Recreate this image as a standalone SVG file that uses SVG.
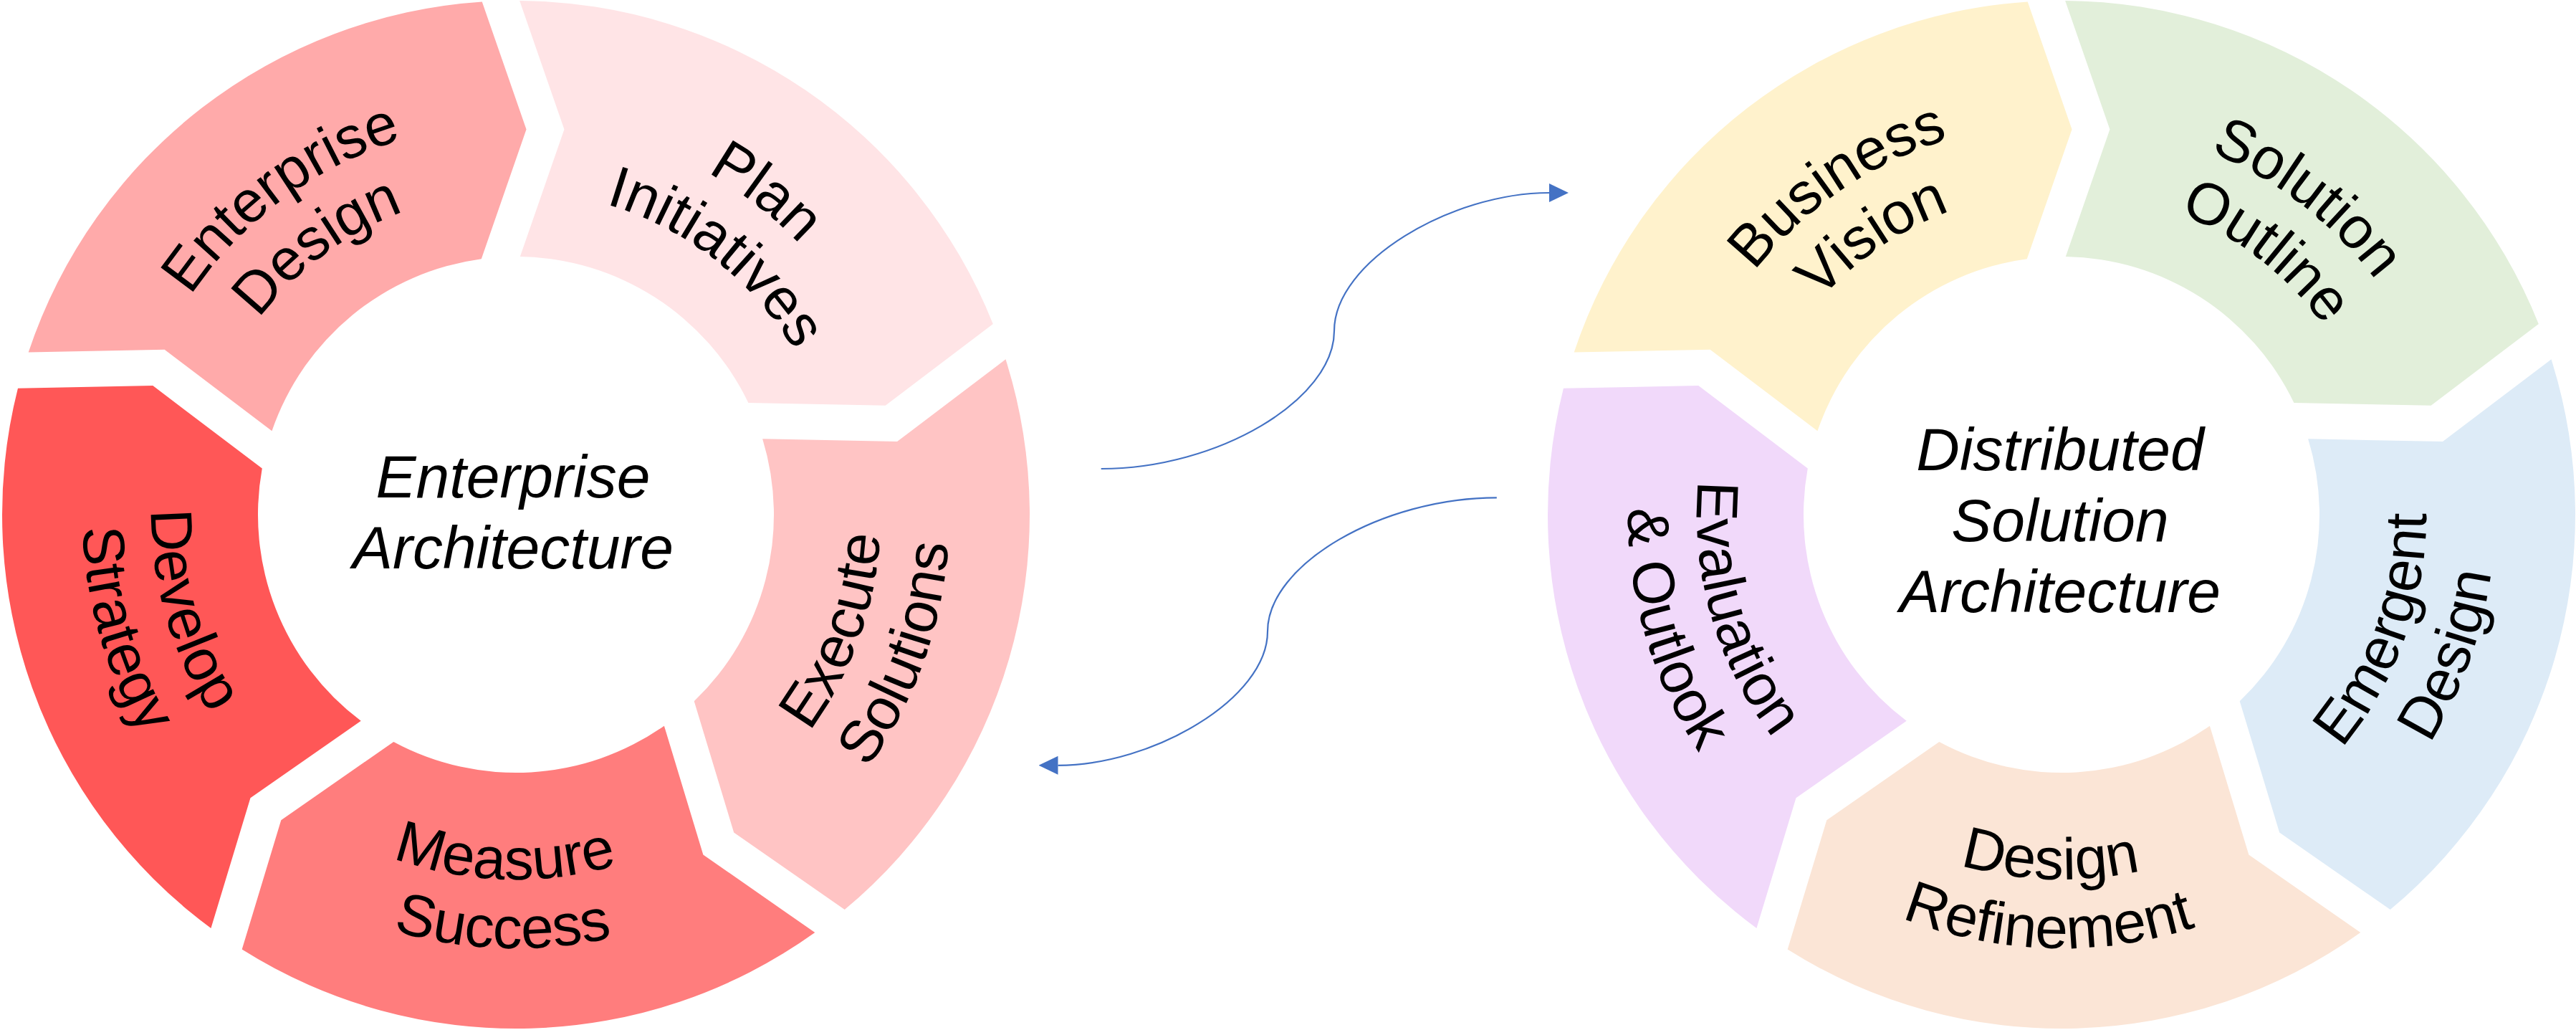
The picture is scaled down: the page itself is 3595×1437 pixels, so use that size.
<svg xmlns="http://www.w3.org/2000/svg" width="3595" height="1437" viewBox="0 0 3595 1437">
<style>
.seg{font-family:"Liberation Sans",Arial,sans-serif;font-size:82px;fill:#000;text-anchor:middle}
.center{font-family:"Liberation Sans",Arial,sans-serif;font-size:84px;font-style:italic;fill:#000;text-anchor:middle}
.conn{fill:none;stroke:#4472C4;stroke-width:2.2}
</style>
<defs>
<path id="seg" d="M5.15,-716.97 A717,717 0 0 1 665.83,-266.02 L515.69,-152.27 L324.40,-156.10 A360,360 0 0 0 5.82,-359.96 L67.46,-537.5 Z"/>
<path id="a0o" d="M-206.7,-506.5 A547,547 0 0 1 541.9,74.2"/>
<path id="a0i" d="M-170.4,-417.6 A451,451 0 0 1 446.8,61.2"/>
<path id="a1i" d="M90.1,501.0 A509,509 0 0 0 388.8,-328.5"/>
<path id="a1o" d="M107.1,595.4 A605,605 0 0 0 462.1,-390.5"/>
<path id="a2i" d="M-448.6,240.5 A509,509 0 0 0 432.6,268.2"/>
<path id="a2o" d="M-533.2,285.9 A605,605 0 0 0 514.2,318.8"/>
<path id="a3i" d="M-367.4,-352.3 A509,509 0 0 0 -121.4,494.3"/>
<path id="a3o" d="M-436.7,-418.7 A605,605 0 0 0 -144.3,587.5"/>
<path id="a4o" d="M-545.5,40.1 A547,547 0 0 1 238.1,-492.5"/>
<path id="a4i" d="M-449.8,33.0 A451,451 0 0 1 196.3,-406.0"/>
<path id="a4oL" d="M-543.5,61.9 A547,547 0 0 1 218.1,-501.6"/>
<path id="a4iL" d="M-448.1,51.1 A451,451 0 0 1 179.8,-413.6"/>
<marker id="arrow" markerUnits="userSpaceOnUse" markerWidth="27" markerHeight="26" viewBox="0 0 27 26" refX="0" refY="13" orient="auto">
<path d="M0,0 L27,13 L0,26 Z" fill="#4472C4"/>
</marker>
</defs>

<!-- Left ring -->
<g id="node-plan-initiatives" transform="translate(720,718)">
<use href="#seg" fill="#FFE4E6"/>
<text class="seg"><textPath href="#a0o" startOffset="50%">Plan</textPath></text>
<text class="seg"><textPath href="#a0i" startOffset="50%">Initiatives</textPath></text>
</g>
<g id="node-execute-solutions" transform="translate(720,718)">
<use href="#seg" transform="rotate(72)" fill="#FFC4C4"/>
<text class="seg"><textPath href="#a1i" startOffset="50%">Execute</textPath></text>
<text class="seg"><textPath href="#a1o" startOffset="50%">Solutions</textPath></text>
</g>
<g id="node-measure-success" transform="translate(720,718)">
<use href="#seg" transform="rotate(144)" fill="#FF7D7D"/>
<text class="seg"><textPath href="#a2i" startOffset="50%">Measure</textPath></text>
<text class="seg"><textPath href="#a2o" startOffset="50%">Success</textPath></text>
</g>
<g id="node-develop-strategy" transform="translate(720,718)">
<use href="#seg" transform="rotate(216)" fill="#FF5757"/>
<text class="seg"><textPath href="#a3i" startOffset="50%">Develop</textPath></text>
<text class="seg"><textPath href="#a3o" startOffset="50%">Strategy</textPath></text>
</g>
<g id="node-enterprise-design" transform="translate(720,718)">
<use href="#seg" transform="rotate(288)" fill="#FFAAAA"/>
<text class="seg"><textPath href="#a4oL" startOffset="50%">Enterprise</textPath></text>
<text class="seg"><textPath href="#a4iL" startOffset="50%">Design</textPath></text>
</g>
<g id="node-enterprise-architecture">
<text class="center" x="716" y="694">Enterprise</text>
<text class="center" x="716" y="793">Architecture</text>
</g>

<!-- Right ring -->
<g id="node-solution-outline" transform="translate(2877,718)">
<use href="#seg" fill="#E2EFDA"/>
<text class="seg"><textPath href="#a0o" startOffset="50%">Solution</textPath></text>
<text class="seg"><textPath href="#a0i" startOffset="50%">Outline</textPath></text>
</g>
<g id="node-emergent-design" transform="translate(2877,718)">
<use href="#seg" transform="rotate(72)" fill="#DDEBF7"/>
<text class="seg"><textPath href="#a1i" startOffset="50%">Emergent</textPath></text>
<text class="seg"><textPath href="#a1o" startOffset="50%">Design</textPath></text>
</g>
<g id="node-design-refinement" transform="translate(2877,718)">
<use href="#seg" transform="rotate(144)" fill="#FBE5D6"/>
<text class="seg"><textPath href="#a2i" startOffset="50%">Design</textPath></text>
<text class="seg"><textPath href="#a2o" startOffset="50%">Refinement</textPath></text>
</g>
<g id="node-evaluation-outlook" transform="translate(2877,718)">
<use href="#seg" transform="rotate(216)" fill="#F1D9FA"/>
<text class="seg"><textPath href="#a3i" startOffset="50%">Evaluation</textPath></text>
<text class="seg"><textPath href="#a3o" startOffset="50%">&amp; Outlook</textPath></text>
</g>
<g id="node-business-vision" transform="translate(2877,718)">
<use href="#seg" transform="rotate(288)" fill="#FFF2CC"/>
<text class="seg"><textPath href="#a4o" startOffset="50%">Business</textPath></text>
<text class="seg"><textPath href="#a4i" startOffset="50%">Vision</textPath></text>
</g>
<g id="node-distributed-solution-architecture">
<text class="center" x="2875" y="656">Distributed</text>
<text class="center" x="2875" y="755">Solution</text>
<text class="center" x="2875" y="854">Architecture</text>
</g>

<!-- Connectors -->
<g id="connectors">
<path class="conn" d="M1536.7,654 C1699.5,654 1862,557.75 1862,461.5 C1862,365.25 2025,269 2162,269" marker-end="url(#arrow)"/>
<path class="conn" d="M2088.8,694.3 C1929,694.3 1769,787.7 1769,881 C1769,974.4 1609,1067.8 1476.5,1067.8" marker-end="url(#arrow)"/>
</g>
</svg>
